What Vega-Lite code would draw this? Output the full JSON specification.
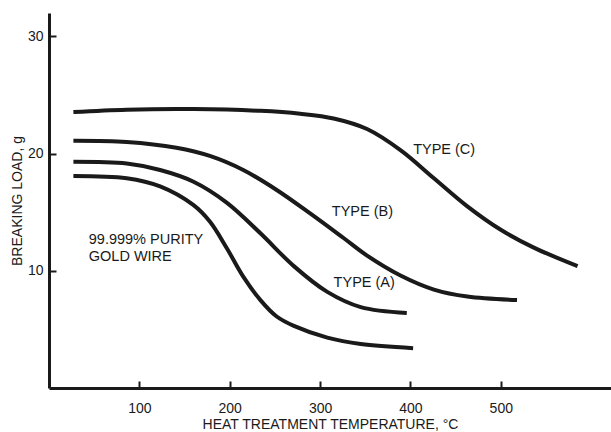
{
  "$schema": "https://vega.github.io/schema/vega-lite/v6.json",
  "autosize": "none",
  "width": 562,
  "height": 375,
  "padding": {"left": 49, "top": 13, "right": 0, "bottom": 44},
  "background": "white",
  "config": {
    "view": {"stroke": null},
    "font": "Liberation Sans",
    "axis": {"grid": false, "domainColor": "#1a1a1a", "domainWidth": 3, "tickColor": "#1a1a1a", "tickWidth": 2, "labelColor": "#1a1a1a", "titleColor": "#1a1a1a", "labelFont": "Liberation Sans", "titleFont": "Liberation Sans", "labelFontSize": 14, "titleFontSize": 14, "titleFontWeight": "normal"}
  },
  "datasets": {
    "curves": [
      {"series": "Pure", "t": 27, "load": 18.1},
      {"series": "Pure", "t": 86, "load": 17.9},
      {"series": "Pure", "t": 123, "load": 17.2},
      {"series": "Pure", "t": 160, "load": 15.6},
      {"series": "Pure", "t": 178, "load": 14.2},
      {"series": "Pure", "t": 197, "load": 11.9},
      {"series": "Pure", "t": 215, "load": 9.5},
      {"series": "Pure", "t": 234, "load": 7.5},
      {"series": "Pure", "t": 252, "load": 6.1},
      {"series": "Pure", "t": 271, "load": 5.3},
      {"series": "Pure", "t": 308, "load": 4.3},
      {"series": "Pure", "t": 345, "load": 3.75},
      {"series": "Pure", "t": 403, "load": 3.4},
      {"series": "A", "t": 27, "load": 19.3},
      {"series": "A", "t": 86, "load": 19.15},
      {"series": "A", "t": 123, "load": 18.6},
      {"series": "A", "t": 160, "load": 17.6},
      {"series": "A", "t": 197, "load": 15.8},
      {"series": "A", "t": 234, "load": 13.2},
      {"series": "A", "t": 271, "load": 10.4},
      {"series": "A", "t": 308, "load": 8.2},
      {"series": "A", "t": 345, "load": 6.9},
      {"series": "A", "t": 396, "load": 6.4},
      {"series": "B", "t": 27, "load": 21.1},
      {"series": "B", "t": 86, "load": 21.0},
      {"series": "B", "t": 141, "load": 20.5},
      {"series": "B", "t": 178, "load": 19.8},
      {"series": "B", "t": 215, "load": 18.6},
      {"series": "B", "t": 252, "load": 16.9},
      {"series": "B", "t": 289, "load": 14.9},
      {"series": "B", "t": 326, "load": 12.8},
      {"series": "B", "t": 352, "load": 11.3},
      {"series": "B", "t": 389, "load": 9.6},
      {"series": "B", "t": 426, "load": 8.4},
      {"series": "B", "t": 463, "load": 7.8},
      {"series": "B", "t": 518, "load": 7.5},
      {"series": "C", "t": 27, "load": 23.55},
      {"series": "C", "t": 86, "load": 23.75},
      {"series": "C", "t": 160, "load": 23.8},
      {"series": "C", "t": 234, "load": 23.65},
      {"series": "C", "t": 278, "load": 23.4},
      {"series": "C", "t": 315, "load": 23.0},
      {"series": "C", "t": 352, "load": 22.1},
      {"series": "C", "t": 389, "load": 20.3},
      {"series": "C", "t": 426, "load": 17.9},
      {"series": "C", "t": 463, "load": 15.5},
      {"series": "C", "t": 500, "load": 13.5},
      {"series": "C", "t": 536, "load": 12.0},
      {"series": "C", "t": 585, "load": 10.4}
    ],
    "labels": [
      {"t": 44, "load": 12.6, "text": "99.999% PURITY"},
      {"t": 44, "load": 11.2, "text": "GOLD WIRE"},
      {"t": 403, "load": 20.3, "text": "TYPE (C)"},
      {"t": 313, "load": 15.0, "text": "TYPE (B)"},
      {"t": 315, "load": 9.0, "text": "TYPE (A)"}
    ]
  },
  "layer": [
    {
      "data": {"name": "curves"},
      "mark": {"type": "line", "interpolate": "catmull-rom", "strokeWidth": 4, "color": "#1a1a1a", "strokeCap": "butt"},
      "encoding": {
        "x": {"field": "t", "type": "quantitative", "scale": {"domain": [0, 622], "nice": false, "zero": false},
          "axis": {"title": "HEAT TREATMENT TEMPERATURE, °C", "values": [100, 200, 300, 400, 500], "tickSize": -7, "labelPadding": 20, "titlePadding": 2}},
        "y": {"field": "load", "type": "quantitative", "scale": {"domain": [0, 32], "nice": false},
          "axis": {"title": "BREAKING LOAD, g", "values": [10, 20, 30], "tickSize": -7, "labelPadding": 13, "titlePadding": 3}},
        "detail": {"field": "series"}
      }
    },
    {
      "data": {"name": "labels"},
      "mark": {"type": "text", "align": "left", "baseline": "middle", "fontSize": 14.5, "color": "#1a1a1a", "font": "Liberation Sans"},
      "encoding": {
        "x": {"field": "t", "type": "quantitative"},
        "y": {"field": "load", "type": "quantitative"},
        "text": {"field": "text"}
      }
    }
  ]
}
